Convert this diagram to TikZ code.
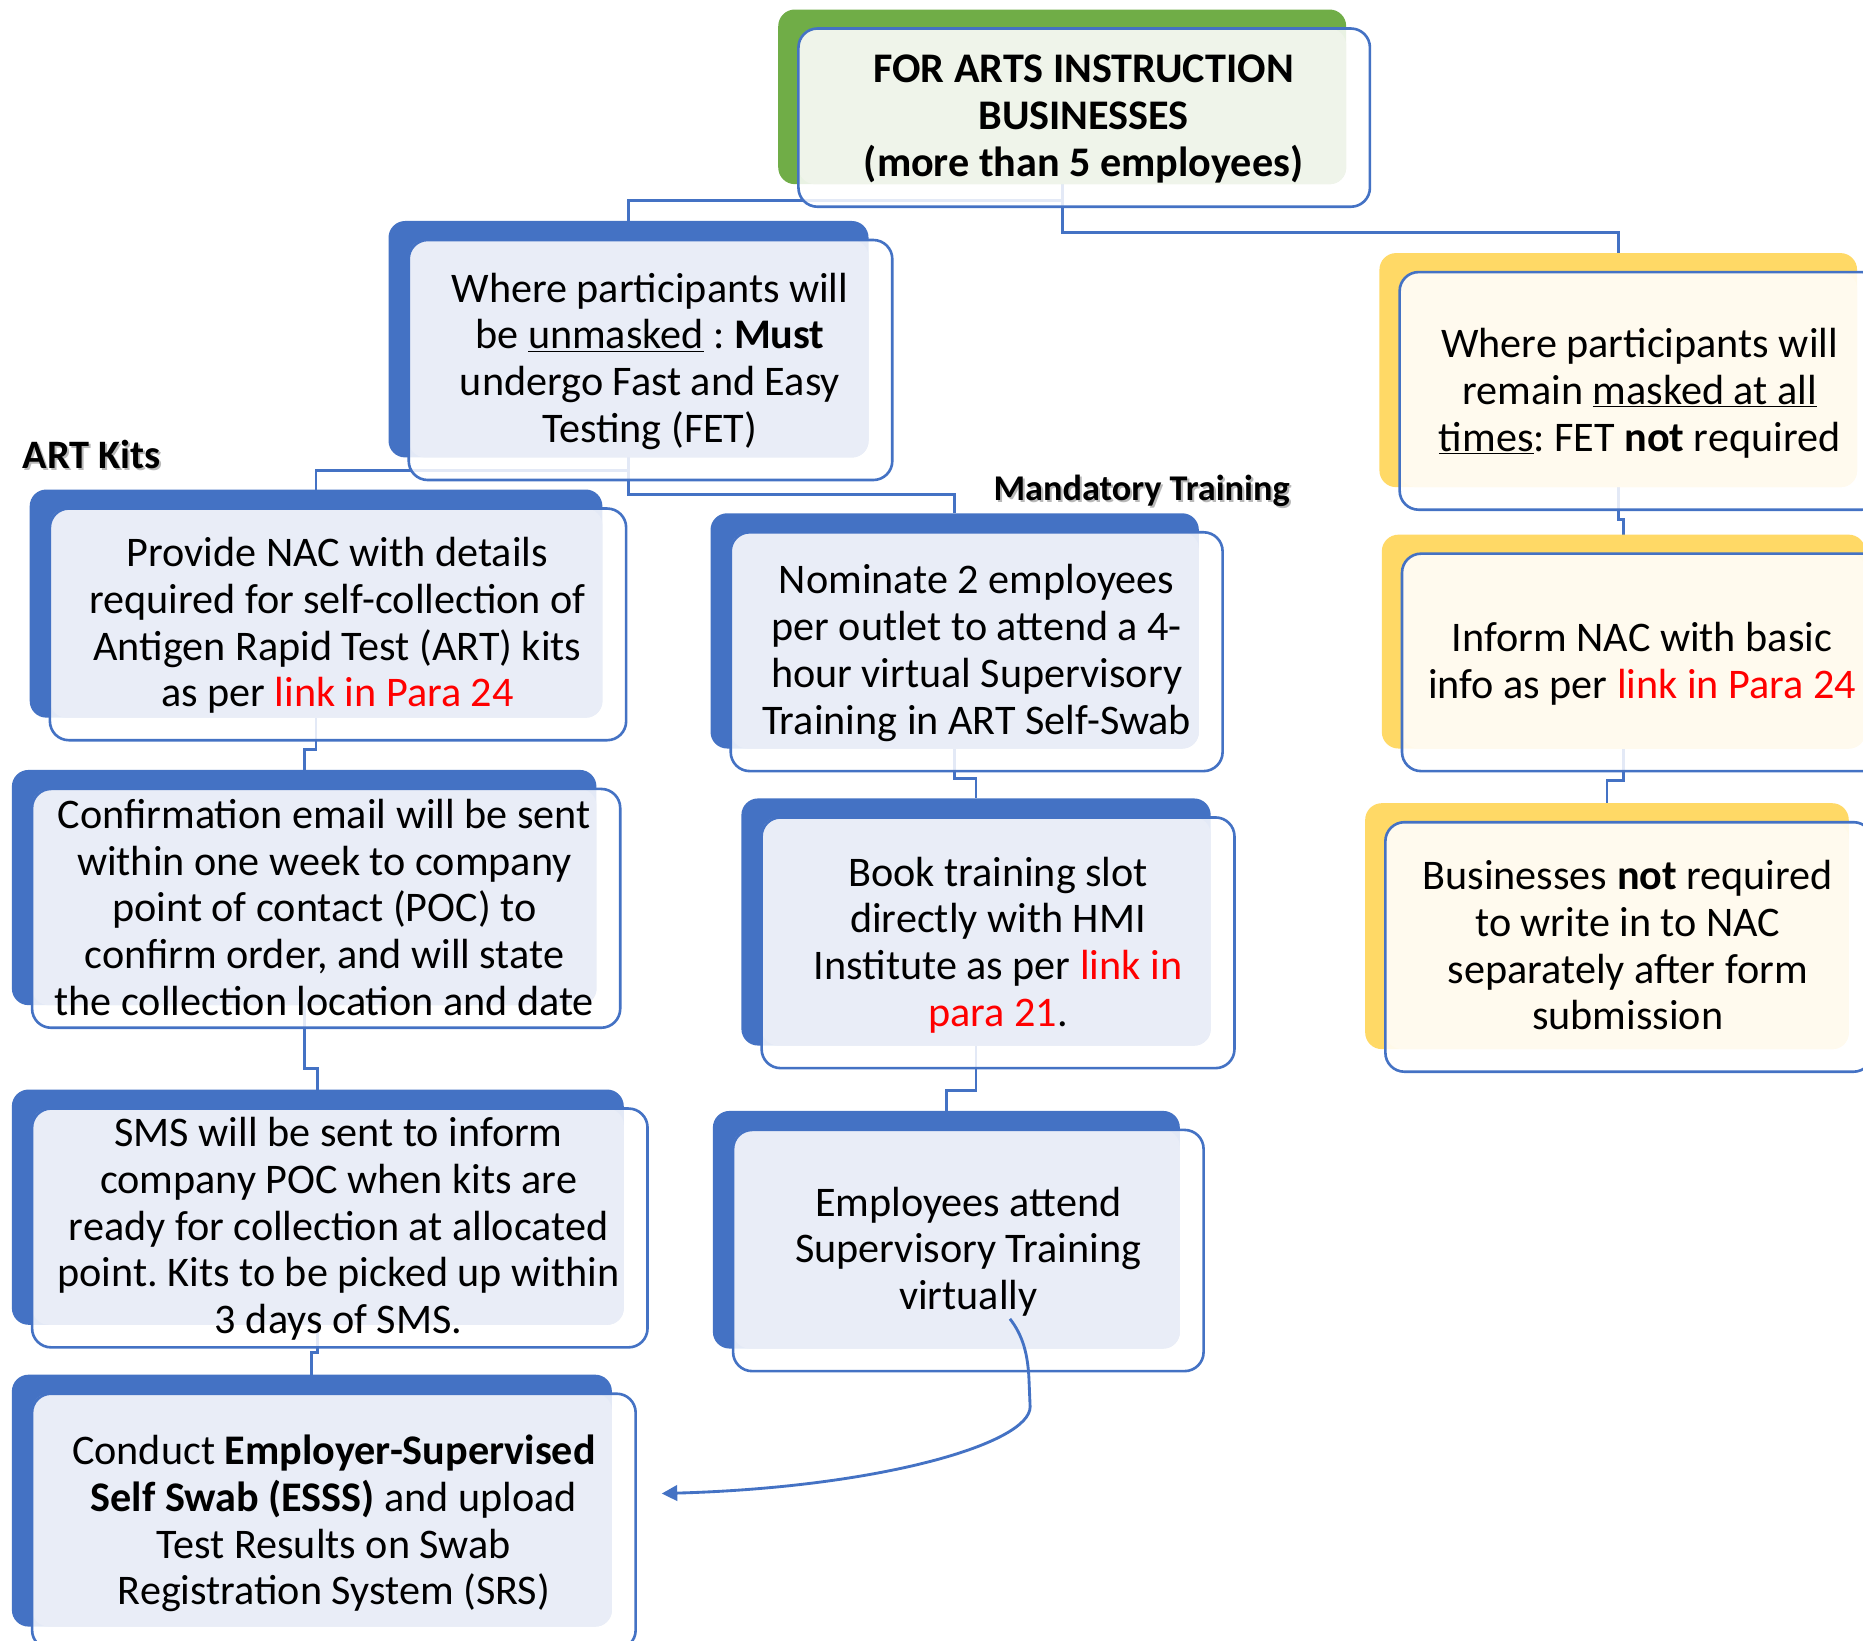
\documentclass[tikz,border=0pt]{standalone}
\usepackage{fontspec}
\setmainfont{Carlito}
\frenchspacing
\usetikzlibrary{arrows.meta}
\definecolor{sblue}{HTML}{4472C4}
\definecolor{sgreen}{HTML}{70AD47}
\definecolor{syellow}{HTML}{FFD966}
\definecolor{lblue}{HTML}{E9EDF7}
\definecolor{lgreen}{HTML}{EFF4EA}
\definecolor{lyellow}{HTML}{FFFAEE}
\definecolor{lred}{HTML}{FF0000}
\pgfdeclarelayer{bg}
\pgfsetlayers{bg,main}
\newcommand\lnk[1]{\textcolor{lred}{#1}}
\newcommand\shtext[1]{\makebox[0pt][l]{\hspace{1.8pt}\raisebox{-1.8pt}{\textcolor{black!28}{#1}}}#1}
\tikzset{
  backshape/.style={rectangle, rounded corners=14pt, inner sep=0pt, outer sep=0pt},
  lineshape/.style={rectangle, rounded corners=16pt, inner sep=0pt, outer sep=0pt, fill=white, fill opacity=0.85},
  border/.style={draw=sblue, line width=2.2pt, rounded corners=16pt},
  conn/.style={draw=sblue, line width=2.4pt},
  txt/.style={align=center, inner sep=0pt, font=\fontsize{35.5}{39.3}\selectfont, yshift=-4pt},
  txtb/.style={txt, font=\fontsize{35.5}{39.3}\selectfont\bfseries},
  lbl/.style={inner sep=0pt, anchor=base west},
}
\newcommand\smbox[7]{%
  \pgfmathsetmacro\smbW{#4-#2}\pgfmathsetmacro\smbH{#5-#3}%
  \pgfmathsetmacro\smbX{(#2+#4)/2}\pgfmathsetmacro\smbY{(#3+#5)/2}%
  \node[backshape, fill=#6, minimum width=\smbW pt, minimum height=\smbH pt] (#1) at (\smbX,\smbY) {};
  \node[lineshape, minimum width=\smbW pt+3pt, minimum height=\smbH pt+3pt] (#1O) at (\smbX+18.5,\smbY+17.5) {};
  \fill[#7, rounded corners=14pt] (#1O.north west) rectangle (#1.south east);
  \draw[border] (#1O.north west) rectangle (#1O.south east);
}
\begin{document}
\begin{tikzpicture}[x=1pt,y=-1pt]
\useasboundingbox (0,0) rectangle (1568,1381);
\begin{pgfonlayer}{bg}
\fill[white] (0,0) rectangle (1568,1381);
\end{pgfonlayer}
\clip (0,0) rectangle (1568,1381);

% boxes
\smbox{top}{655}{8}{1133}{155}{sgreen}{lgreen}
\smbox{un}{327}{186}{731}{385}{sblue}{lblue}
\smbox{mask}{1161}{213}{1563}{410}{syellow}{lyellow}
\smbox{prov}{25}{412}{507}{604}{sblue}{lblue}
\smbox{nom}{598}{432}{1009}{630}{sblue}{lblue}
\smbox{inf}{1163}{450}{1570}{630}{syellow}{lyellow}
\smbox{bus}{1149}{676}{1556}{883}{syellow}{lyellow}
\smbox{book}{624}{672}{1019}{880}{sblue}{lblue}
\smbox{conf}{10}{648}{502}{846}{sblue}{lblue}
\smbox{emp}{600}{935}{993}{1135}{sblue}{lblue}
\smbox{sms}{10}{917}{525}{1115}{sblue}{lblue}
\smbox{cond}{10}{1157}{515}{1369}{sblue}{lblue}

% texts
\node[txtb] (topT) at (912,97) {\strut FOR ARTS INSTRUCTION\\BUSINESSES\\(more than 5 employees)\strut};
\node[txt] (unT) at (547,301.5) {\strut Where participants will\\be \underline{unmasked} : \textbf{Must}\\undergo Fast and Easy\\Testing (FET)\strut};
\node[txt] (maskT) at (1380,328.5) {\strut Where participants will\\remain \underline{masked at all}\\\underline{times}: FET \textbf{not} required\strut};
\node[txt] (provT) at (284,524) {\strut Provide NAC with details\\required for self-collection of\\Antigen Rapid Test (ART) kits\\as per \lnk{link in Para 24}\strut};
\node[txt] (nomT) at (822,547) {\strut Nominate 2 employees\\per outlet to attend a 4-\\hour virtual Supervisory\\Training in ART Self-Swab\strut};
\node[txt] (infT) at (1382,556.5) {\strut Inform NAC with basic\\info as per \lnk{link in Para 24}\strut};
\node[txt] (busT) at (1370,796) {\strut Businesses \textbf{not} required\\to write in to NAC\\separately after form\\submission\strut};
\node[txt] (bookT) at (840,793) {\strut Book training slot\\directly with HMI\\Institute as per \lnk{link in}\\\lnk{para 21}.\strut};
\node[txt] (confT) at (273,764) {\strut Confirmation email will be sent\\within one week to company\\point of contact (POC) to\\confirm order, and will state\\the collection location and date\strut};
\node[txt] (empT) at (815,1051) {\strut Employees attend\\Supervisory Training\\virtually\strut};
\node[txt] (smsT) at (285,1032) {\strut SMS will be sent to inform\\company POC when kits are\\ready for collection at allocated\\point. Kits to be picked up within\\3 days of SMS.\strut};
\node[txt] (condT) at (281,1280) {\strut Conduct \textbf{Employer-Supervised}\\\textbf{Self Swab (ESSS)} and upload\\Test Results on Swab\\Registration System (SRS)\strut};

% labels
\node[lbl, font=\fontsize{34}{38}\selectfont\bfseries] (artk) at (19,394) {\shtext{ART Kits}};
\node[lbl, font=\fontsize{30.5}{34}\selectfont\bfseries] (mand) at (836,421) {\shtext{Mandatory Training}};

% connectors
\begin{pgfonlayer}{bg}
\draw[conn] (top.south) -- ++(0,14) -| (un.north);
\draw[conn] (top.south) -- ++(0,41) -| (mask.north);
\draw[conn] (un.south) -- ++(0,11) -| (prov.north);
\draw[conn] (un.south) -- ++(0,31) -| (nom.north);
\draw[conn] (prov.south) -- ++(0,27) -| (conf.north);
\draw[conn] (conf.south) -- ++(0,53) -| (sms.north);
\draw[conn] (sms.south) -- ++(0,23) -| (cond.north);
\draw[conn] (nom.south) -- ++(0,25) -| (book.north);
\draw[conn] (book.south) -- ++(0,38) -| (emp.north);
\draw[conn] (mask.south) -- ++(0,27) -| (inf.north);
\draw[conn] (inf.south) -- ++(0,27) -| (bus.north);
\end{pgfonlayer}

% curved arrow
\coordinate (cs) at (850,1110);
\coordinate (ce) at (557,1257);
\draw[conn, -{Triangle[length=13pt,width=13pt]}] (cs) .. controls (861,1124) and (865,1140) .. (866,1160) -- (867,1184) .. controls (867,1215) and (740,1252) .. (ce);
\end{tikzpicture}
\end{document}
